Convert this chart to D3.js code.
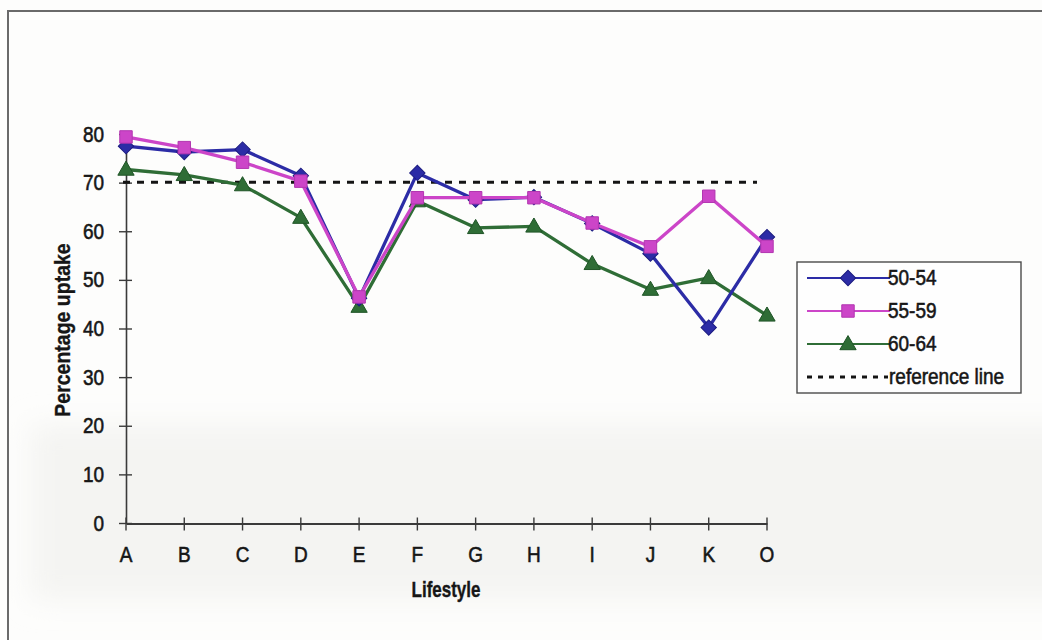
<!DOCTYPE html>
<html>
<head>
<meta charset="utf-8">
<script src="https://cdn.jsdelivr.net/npm/d3@7"></script>
<style>
  html, body { margin: 0; padding: 0; background: #fdfdfc; }
  svg { display: block; font-family: "Liberation Sans", Arial, sans-serif; }
</style>
</head>
<body>
<svg id="chart" width="1042" height="640"></svg>
<script>
// Lifestyle categories along the x axis
const categories = ["A", "B", "C", "D", "E", "F", "G", "H", "I", "J", "K", "O"];

// Percentage uptake by age group
const uptake5054 = [77.6, 76.4, 76.9, 71.5, 46.3, 72.1, 66.6, 67.1, 61.7, 55.5, 40.3, 58.9];
const uptake5559 = [79.5, 77.3, 74.3, 70.4, 46.6, 67.0, 67.0, 67.0, 61.8, 56.9, 67.3, 57.0];
const uptake6064 = [72.8, 71.7, 69.6, 62.9, 44.6, 66.3, 60.8, 61.1, 53.4, 48.1, 50.5, 42.8];

const seriesNames = ["50-54", "55-59", "60-64"];
const referenceValue = 70.2;
const referenceName = "reference line";

const yTicks = [0, 10, 20, 30, 40, 50, 60, 70, 80];

const svg = d3.select("#chart");

// Paper background and the faint grey wash across the lower half
const defs = svg.append("defs");
defs.append("filter").attr("id", "soft")
  .attr("x", "-20%").attr("y", "-50%").attr("width", "140%").attr("height", "200%")
  .append("feGaussianBlur").attr("stdDeviation", 14);
svg.append("rect").attr("width", 1042).attr("height", 640).attr("fill", "#fdfdfc");
svg.append("rect").attr("x", 30).attr("y", 425).attr("width", 1100).attr("height", 175)
  .attr("fill", "#f4f4f2").attr("filter", "url(#soft)");

// Chart area frame (top and left edges visible)
svg.append("path").attr("d", "M8,640 V11 H1042")
  .attr("fill", "none").attr("stroke", "#6a6a6a").attr("stroke-width", 2);

const x = d3.scalePoint().domain(categories).range([126, 767]);
const y = d3.scaleLinear().domain([0, 80]).range([523.5, 134.5]);

const axisColor = "#3a3a3a";
const ink = "#161616";

// Helper for slightly tall, heavy labels
function label(g, px, py, text, opts = {}) {
  return g.append("text")
    .attr("transform", `translate(${px},${py}) scale(1,${opts.sy || 1.2})`)
    .attr("text-anchor", opts.anchor || "middle")
    .attr("font-size", opts.size || 18)
    .attr("font-weight", opts.weight || "normal")
    .attr("fill", ink)
    .attr("stroke", ink).attr("stroke-width", opts.sw == null ? 0.5 : opts.sw)
    .text(text);
}

// Y axis
const yAxis = svg.append("g").attr("transform", "translate(126,0)")
  .call(d3.axisLeft(y).tickValues(yTicks).tickSize(0).tickFormat(""));
yAxis.select(".domain").attr("stroke", axisColor).attr("stroke-width", 1.6);
yTicks.forEach(t => {
  svg.append("line").attr("x1", 119).attr("x2", 132)
    .attr("y1", y(t)).attr("y2", y(t))
    .attr("stroke", axisColor).attr("stroke-width", 1.4);
  label(svg, 104, y(t) + 7, String(t), { anchor: "end", size: 19 });
});

// X axis
const xAxis = svg.append("g").attr("transform", `translate(0,${y(0)})`)
  .call(d3.axisBottom(x).tickSize(0).tickFormat(""));
xAxis.select(".domain").attr("stroke", axisColor).attr("stroke-width", 1.8);
categories.forEach(c => {
  svg.append("line").attr("x1", x(c)).attr("x2", x(c))
    .attr("y1", y(0) - 6).attr("y2", y(0) + 7)
    .attr("stroke", axisColor).attr("stroke-width", 1.4);
  label(svg, x(c), 562, c, { size: 19 });
});

// Axis titles
label(svg, 446, 597, "Lifestyle", { size: 17, weight: "bold", sy: 1.25, sw: 0.3 });
svg.append("text")
  .attr("transform", "translate(70,330) rotate(-90) scale(1.0,1.12)")
  .attr("text-anchor", "middle").attr("font-size", 19.5).attr("font-weight", "bold")
  .attr("fill", ink).attr("stroke", ink).attr("stroke-width", 0.3)
  .text("Percentage uptake");

// Reference line
svg.append("line")
  .attr("x1", x(categories[0]) - 3).attr("x2", x(categories[categories.length - 1]) - 10)
  .attr("y1", y(referenceValue)).attr("y2", y(referenceValue))
  .attr("stroke", "#141414").attr("stroke-width", 3).attr("stroke-dasharray", "7,7");

// Series styles (diamond = square turned 45 degrees)
const styles = [
  { color: "#2c2ca6", stroke: "#1c1c80", symbol: d3.symbolSquare, size: 118, rot: 45, dy: 0 },
  { color: "#cc45c8", stroke: "#b236b0", symbol: d3.symbolSquare, size: 155, rot: 0, dy: 0 },
  { color: "#2f6d36", stroke: "#1f5426", symbol: d3.symbolTriangle, size: 115, rot: 0, dy: 1 }
];
const seriesValues = [uptake5054, uptake5559, uptake6064];

const line = d3.line().x(d => x(d.c)).y(d => y(d.v));

// Draw order: 60-64, 50-54, 55-59 (pink on top)
[2, 0, 1].forEach(i => {
  const pts = categories.map((c, j) => ({ c, v: seriesValues[i][j] }));
  const s = styles[i];
  svg.append("path").datum(pts).attr("d", line)
    .attr("fill", "none").attr("stroke", s.color).attr("stroke-width", 3.3)
    .attr("stroke-linejoin", "round");
  svg.append("g").selectAll("path").data(pts).join("path")
    .attr("transform", d => `translate(${x(d.c)},${y(d.v) + s.dy}) rotate(${s.rot})`)
    .attr("d", d3.symbol().type(s.symbol).size(s.size))
    .attr("fill", s.color).attr("stroke", s.stroke).attr("stroke-width", 1);
});

// Legend
const lg = svg.append("g");
lg.append("rect").attr("x", 797).attr("y", 262).attr("width", 224).attr("height", 131)
  .attr("fill", "#fefefe").attr("stroke", "#4a4a4a").attr("stroke-width", 1.4);
const rowY = [278, 311, 344, 377];
seriesNames.forEach((name, i) => {
  const s = styles[i];
  lg.append("line").attr("x1", 807).attr("x2", 890).attr("y1", rowY[i]).attr("y2", rowY[i])
    .attr("stroke", s.color).attr("stroke-width", 2);
  lg.append("path").attr("transform", `translate(848,${rowY[i] + s.dy}) rotate(${s.rot})`)
    .attr("d", d3.symbol().type(s.symbol).size(s.size))
    .attr("fill", s.color).attr("stroke", s.stroke).attr("stroke-width", 1);
  label(lg, 888, rowY[i] + 7, name, { anchor: "start", size: 19 });
});
lg.append("line").attr("x1", 807).attr("x2", 888).attr("y1", rowY[3]).attr("y2", rowY[3])
  .attr("stroke", "#141414").attr("stroke-width", 3).attr("stroke-dasharray", "5,6");
label(lg, 889, rowY[3] + 7, referenceName, { anchor: "start", size: 19 });
</script>
</body>
</html>
